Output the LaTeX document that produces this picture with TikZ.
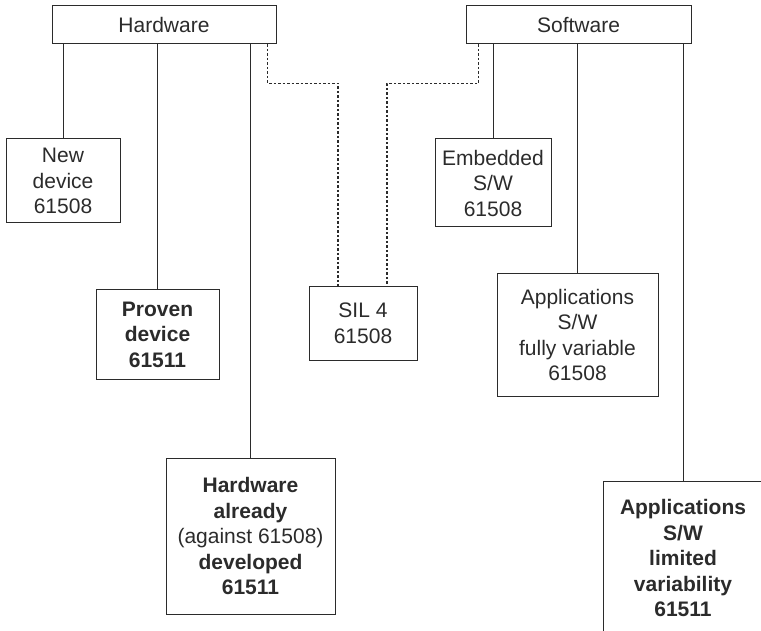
\documentclass[tikz,border=0pt]{standalone}
\usepackage{fontspec}
\setmainfont{Liberation Sans}
\usepackage{tikz}
\usepackage{xcolor}
\definecolor{inkgray}{HTML}{2B2B2B}
\tikzset{
    plain-box/.style = {draw=inkgray, line width=1pt, rectangle, align=center, inner sep=0pt, text=inkgray, font=\fontsize{21}{25.5}\selectfont},
    branch/.style = {draw=inkgray, line width=1pt},
    sil-link/.style = {draw=inkgray, line width=1.2pt, dash pattern=on 2.5pt off 2pt},
}

\begin{document}
\begin{tikzpicture}[x=1pt, y=-1pt]
\useasboundingbox (0,0) rectangle (761,631);
\clip (0,0) rectangle (761,631);
\node[plain-box, minimum width=224pt, minimum height=38pt] (hardware) at (164,25) {Hardware};
\node[plain-box, minimum width=225pt, minimum height=38pt] (software) at (578.5,25) {Software};

\node[plain-box, minimum width=114pt, minimum height=84pt] (new-device) at (63,181) {New\\device\\61508};
\node[plain-box, minimum width=123pt, minimum height=89pt] (proven-device) at (157.5,334.5) {\textbf{Proven}\\\textbf{device}\\\textbf{61511}};
\node[plain-box, minimum width=169pt, minimum height=156pt] (hw-developed) at (250.5,536) {\textbf{Hardware}\\\textbf{already}\\(against 61508)\\\textbf{developed}\\\textbf{61511}};
\node[plain-box, minimum width=108pt, minimum height=73pt] (sil4) at (363,323.5) {SIL 4\\61508};
\node[plain-box, minimum width=116pt, minimum height=88pt] (embedded) at (493,183) {Embedded\\S/W\\61508};
\node[plain-box, minimum width=161pt, minimum height=122pt] (apps-full) at (577.5,335) {Applications\\S/W\\fully variable\\61508};
\node[plain-box, minimum width=160pt, minimum height=154pt] (apps-limited) at (683,558) {\textbf{Applications}\\\textbf{S/W}\\\textbf{limited}\\\textbf{variability}\\\textbf{61511}};

\draw[branch] (hardware.south -| new-device.north) -- (new-device.north);
\draw[branch] (hardware.south -| proven-device.north) -- (proven-device.north);
\draw[branch] (hardware.south -| hw-developed.north) -- (hw-developed.north);
\draw[branch] (software.south -| embedded.north) -- (embedded.north);
\draw[branch] (software.south -| apps-full.north) -- (apps-full.north);
\draw[branch] (software.south -| apps-limited.north) -- (apps-limited.north);

\draw[sil-link] ([xshift=-9pt]hardware.south east) -- ++(0,39) -| ([xshift=-25pt]sil4.north);
\draw[sil-link] ([xshift=13pt]software.south west) -- ++(0,39) -| ([xshift=24pt]sil4.north);
\end{tikzpicture}
\end{document}
